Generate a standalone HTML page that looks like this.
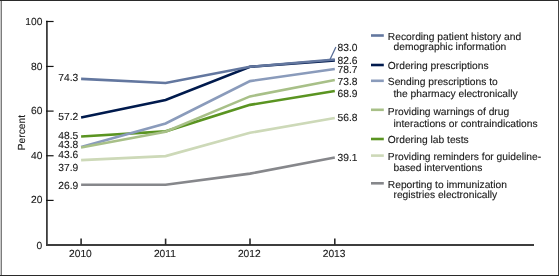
<!DOCTYPE html><html><head><meta charset="utf-8"><style>html,body{margin:0;padding:0;background:#fff;width:560px;height:276px;overflow:hidden}svg{display:block;will-change:transform}text{text-rendering:geometricPrecision;font-family:"Liberation Sans",sans-serif;font-size:10.25px;fill:#1a1a1a;stroke:#1a1a1a;stroke-width:0.12px}</style></head><body>
<svg width="560" height="276" viewBox="0 0 560 276">
<rect x="0" y="0" width="560" height="276" fill="#fff"/>
<rect x="0" y="0" width="1" height="276" fill="#c8c8c8"/>
<rect x="1" y="0" width="1" height="276" fill="#7c7c7c"/>
<rect x="0" y="0" width="559" height="1" fill="#2a2a2a"/>
<rect x="558" y="0" width="1" height="276" fill="#414141"/>
<rect x="0" y="275" width="559" height="1" fill="#2a2a2a"/>
<line x1="46.9" y1="20.8" x2="46.9" y2="245.7" stroke="#3d3d3d" stroke-width="1.8"/>
<line x1="46" y1="245.0" x2="534" y2="245.0" stroke="#3d3d3d" stroke-width="1.8"/>
<line x1="46" y1="200.40" x2="53.6" y2="200.40" stroke="#141414" stroke-width="1.2"/>
<text x="42.4" y="203.45" text-anchor="end">20</text>
<line x1="46" y1="155.75" x2="53.6" y2="155.75" stroke="#141414" stroke-width="1.2"/>
<text x="42.4" y="158.80" text-anchor="end">40</text>
<line x1="46" y1="111.10" x2="53.6" y2="111.10" stroke="#141414" stroke-width="1.2"/>
<text x="42.4" y="114.15" text-anchor="end">60</text>
<line x1="46" y1="66.45" x2="53.6" y2="66.45" stroke="#141414" stroke-width="1.2"/>
<text x="42.4" y="69.50" text-anchor="end">80</text>
<line x1="46" y1="21.50" x2="53.6" y2="21.50" stroke="#141414" stroke-width="1.2"/>
<text x="42.4" y="24.85" text-anchor="end">100</text>
<text x="42.3" y="248.75" text-anchor="end">0</text>
<line x1="81.10" y1="238.6" x2="81.10" y2="245" stroke="#2a2a2a" stroke-width="1.6"/>
<text x="80.40" y="257.4" text-anchor="middle">2010</text>
<line x1="165.60" y1="238.6" x2="165.60" y2="245" stroke="#2a2a2a" stroke-width="1.6"/>
<text x="164.90" y="257.4" text-anchor="middle">2011</text>
<line x1="250.00" y1="238.6" x2="250.00" y2="245" stroke="#2a2a2a" stroke-width="1.6"/>
<text x="249.30" y="257.4" text-anchor="middle">2012</text>
<line x1="334.80" y1="238.6" x2="334.80" y2="245" stroke="#2a2a2a" stroke-width="1.6"/>
<text x="334.10" y="257.4" text-anchor="middle">2013</text>
<text transform="translate(25.3,132.6) rotate(-90)" text-anchor="middle">Percent</text>
<polyline points="81.10,184.70 165.60,184.81 250.00,173.64 334.80,157.46" fill="none" stroke="#86878b" stroke-width="2.6" stroke-linejoin="miter"/>
<polyline points="81.10,160.14 165.60,156.12 250.00,132.79 334.80,117.94" fill="none" stroke="#cdd9b8" stroke-width="2.6" stroke-linejoin="miter"/>
<polyline points="81.10,136.47 165.60,131.34 250.00,104.88 334.80,90.93" fill="none" stroke="#5a9421" stroke-width="2.6" stroke-linejoin="miter"/>
<polyline points="81.10,146.97 165.60,123.53 250.00,81.11 334.80,69.05" fill="none" stroke="#8a9bbb" stroke-width="2.6" stroke-linejoin="miter"/>
<polyline points="81.10,147.41 165.60,131.79 250.00,96.40 334.80,79.99" fill="none" stroke="#a8c088" stroke-width="2.6" stroke-linejoin="miter"/>
<polyline points="81.10,117.50 165.60,100.08 250.00,66.82 334.80,60.35" fill="none" stroke="#001a4d" stroke-width="2.6" stroke-linejoin="miter"/>
<polyline points="81.10,78.88 165.60,83.01 250.00,66.82 334.80,59.45" fill="none" stroke="#63779f" stroke-width="2.6" stroke-linejoin="miter"/>
<line x1="330" y1="59.6" x2="335.9" y2="47.1" stroke="#566b96" stroke-width="1.25"/>
<text x="78.2" y="81.00" text-anchor="end">74.3</text>
<text x="78.2" y="120.35" text-anchor="end">57.2</text>
<text x="78.2" y="139.40" text-anchor="end">48.5</text>
<text x="78.2" y="148.40" text-anchor="end">43.8</text>
<text x="78.2" y="157.50" text-anchor="end">43.6</text>
<text x="78.2" y="171.20" text-anchor="end">37.9</text>
<text x="78.2" y="189.20" text-anchor="end">26.9</text>
<text x="337.5" y="50.85">83.0</text>
<text x="337.5" y="63.50">82.6</text>
<text x="337.5" y="73.30">78.7</text>
<text x="337.5" y="84.60">73.8</text>
<text x="337.5" y="97.40">68.9</text>
<text x="337.5" y="121.10">56.8</text>
<text x="337.5" y="160.60">39.1</text>
<line x1="371" y1="35.50" x2="383.8" y2="35.50" stroke="#63779f" stroke-width="2.6"/>
<text x="387.8" y="39.60" xml:space="preserve">Recording patient history and</text>
<text x="387.8" y="50.25" xml:space="preserve">  demographic information</text>
<line x1="371" y1="65.00" x2="383.8" y2="65.00" stroke="#001a4d" stroke-width="2.6"/>
<text x="387.8" y="68.85" xml:space="preserve">Ordering prescriptions</text>
<line x1="371" y1="80.80" x2="383.8" y2="80.80" stroke="#8a9bbb" stroke-width="2.6"/>
<text x="387.8" y="85.25" xml:space="preserve">Sending prescriptions to</text>
<text x="387.8" y="97.05" xml:space="preserve">  the pharmacy electronically</text>
<line x1="371" y1="109.80" x2="383.8" y2="109.80" stroke="#a8c088" stroke-width="2.6"/>
<text x="387.8" y="114.55" xml:space="preserve">Providing warnings of drug</text>
<text x="387.8" y="126.95" xml:space="preserve">  interactions or contraindications</text>
<line x1="371" y1="139.00" x2="383.8" y2="139.00" stroke="#5a9421" stroke-width="2.6"/>
<text x="387.8" y="142.80" xml:space="preserve">Ordering lab tests</text>
<line x1="371" y1="155.60" x2="383.8" y2="155.60" stroke="#cdd9b8" stroke-width="2.6"/>
<text x="387.8" y="160.35" xml:space="preserve">Providing reminders for guideline-</text>
<text x="387.8" y="170.65" xml:space="preserve">  based interventions</text>
<line x1="371" y1="183.30" x2="383.8" y2="183.30" stroke="#86878b" stroke-width="2.6"/>
<text x="387.8" y="187.85" xml:space="preserve">Reporting to immunization</text>
<text x="387.8" y="197.65" xml:space="preserve">  registries electronically</text>
</svg></body></html>
